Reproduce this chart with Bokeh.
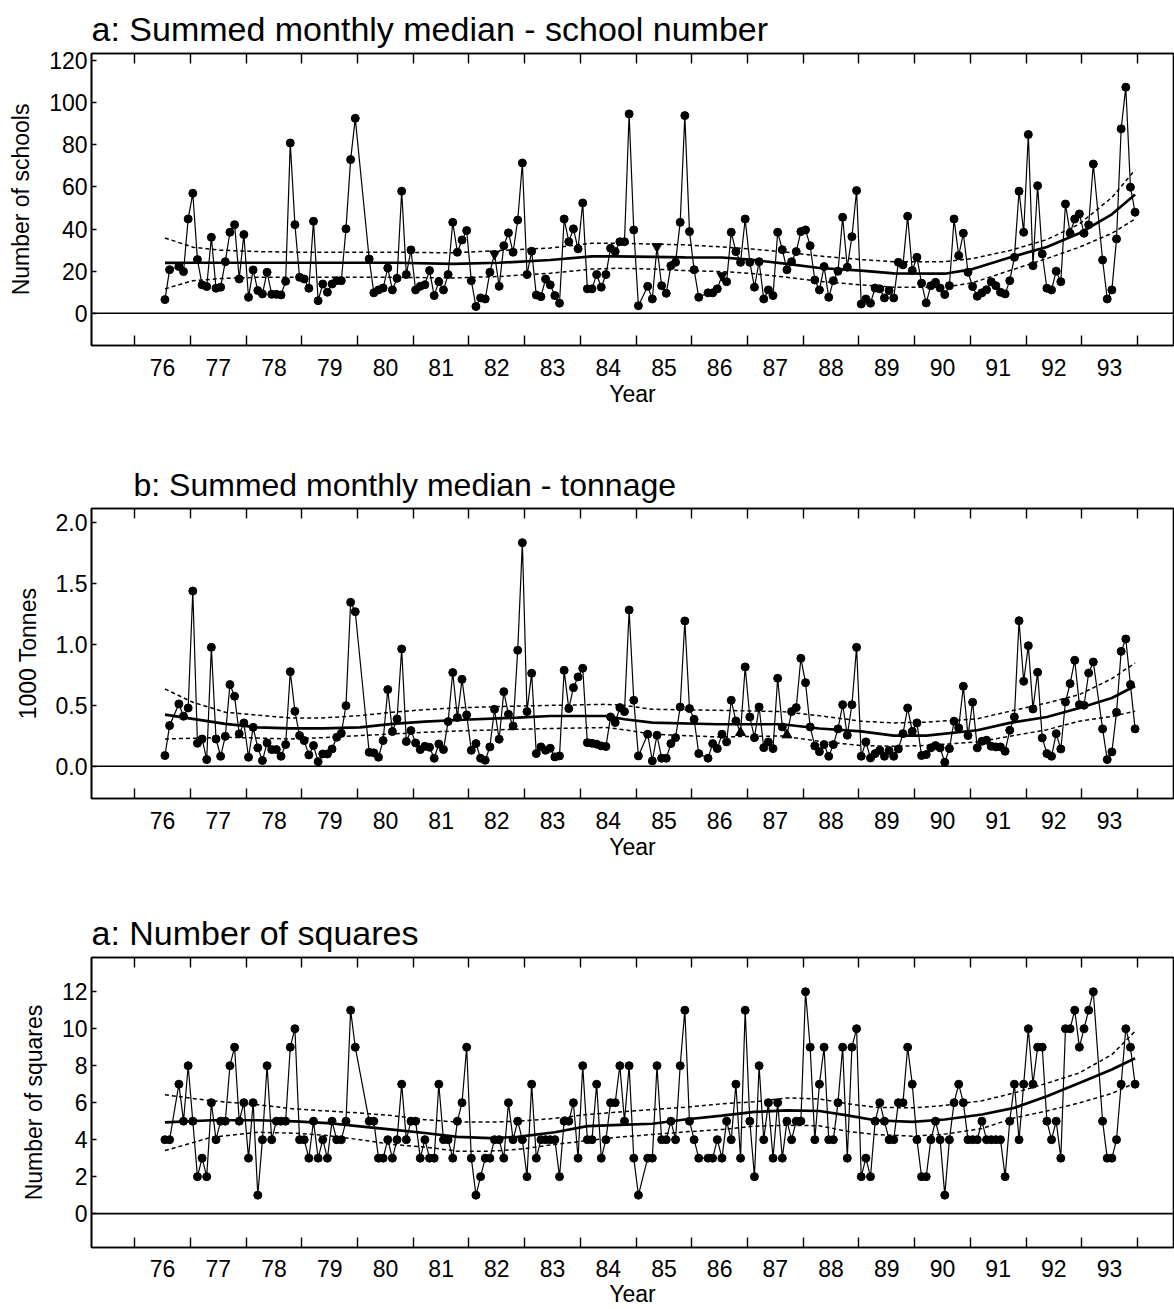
from bokeh.plotting import figure
from bokeh.models import FixedTicker, LinearAxis, Span, Range1d, PrintfTickFormatter
from bokeh.layouts import column
from bokeh.embed import file_html
from bokeh.resources import INLINE

FONT = "Liberation Sans"

# ---------------- data (monthly series, month 0 = first month plotted) -------------
missing_months = [2, 42, 43, 103, 116, 201]
months = [m for m in range(210) if m not in missing_months]

year_labels = list(range(76, 94))  # tick labels 76 .. 93

schools = [6.5, 20.7, 22.2, 19.8, 44.8, 57.0, 25.5, 13.5, 12.7, 36.1, 11.9, 12.4, 24.5, 38.5, 42.1,
           16.3, 37.4, 7.6, 20.6, 10.8, 9.2, 19.5, 9.0, 9.0, 8.7, 15.2, 80.9, 42.1, 17.1, 16.3, 11.9,
           43.7, 6.0, 13.9, 10.0, 13.9, 15.5, 15.5, 40.1, 73.0, 92.6,
           25.8, 9.7, 11.1, 12.0, 21.5, 11.1, 16.6, 58.0, 18.4, 30.1, 11.1, 12.8, 13.6, 20.3, 8.4,
           15.0, 11.1, 18.4, 43.2, 29.0, 34.8, 39.3, 15.5, 3.2, 7.3, 6.8, 19.5, 28.2, 12.8, 32.1,
           38.2, 29.0, 44.3, 71.4, 18.4, 29.5, 8.7, 7.9, 16.3, 13.5, 8.4, 4.8, 44.8, 34.0, 40.1,
           30.6, 52.4, 11.6, 11.6, 18.4, 12.4, 18.4, 30.9, 29.3, 34.0, 34.0, 94.7, 39.6, 3.6,
           12.8, 6.8, 31.7, 13.1, 9.5, 22.6, 24.2, 43.2, 93.9, 38.8, 20.7, 7.6,
           9.7, 9.7, 11.6, 17.9, 15.0, 38.5, 29.3, 24.2, 44.8, 24.2, 12.4, 24.5, 6.8, 11.1, 8.4,
           38.5, 30.2, 20.7, 24.5, 29.3, 38.8, 39.6, 32.1, 15.8, 11.1, 22.2, 7.6, 15.5, 20.0,
           45.6, 21.9, 36.4, 58.3, 4.4, 6.8, 4.8, 12.0, 11.6, 7.3, 10.8, 7.3, 24.2, 23.0, 46.1,
           20.3, 26.6, 14.3, 4.9, 13.1, 14.7, 12.0, 8.9, 13.1, 44.8, 27.4, 38.0, 19.5, 12.7, 8.1,
           9.7, 11.2, 15.0, 13.1, 10.0, 9.2, 15.5, 26.6, 58.0, 38.5, 84.9, 22.6, 60.6, 28.2, 11.9,
           11.1, 20.0, 15.0, 51.9, 38.0, 44.8, 47.2, 38.0, 42.0, 70.9,
           25.3, 6.8, 11.1, 35.3, 87.6, 107.4, 59.9, 48.0]

tonnes = [0.088, 0.334, 0.512, 0.411, 0.479, 1.440, 0.189, 0.224, 0.055, 0.977, 0.224, 0.082,
          0.246, 0.671, 0.575, 0.266, 0.356, 0.074, 0.320, 0.151, 0.047, 0.192, 0.137, 0.137,
          0.082, 0.178, 0.777, 0.452, 0.252, 0.211, 0.093, 0.170, 0.038, 0.101, 0.101, 0.142,
          0.238, 0.271, 0.498, 1.347, 1.270,
          0.115, 0.110, 0.074, 0.211, 0.630, 0.285, 0.389, 0.964, 0.203, 0.293, 0.192, 0.137,
          0.164, 0.156, 0.066, 0.183, 0.137, 0.367, 0.770, 0.400, 0.714, 0.422, 0.131, 0.186,
          0.066, 0.049, 0.159, 0.468, 0.222, 0.613, 0.427, 0.331, 0.953, 1.837, 0.449, 0.764,
          0.104, 0.159, 0.131, 0.148, 0.077, 0.085, 0.788, 0.474, 0.646, 0.734, 0.805, 0.194,
          0.189, 0.181, 0.167, 0.162, 0.405, 0.359, 0.482, 0.449, 1.284, 0.542, 0.085,
          0.263, 0.044, 0.255, 0.066, 0.066, 0.186, 0.235, 0.487, 1.194, 0.474, 0.386, 0.104,
          0.066, 0.186, 0.145, 0.263, 0.200, 0.542, 0.372, 0.276, 0.816, 0.405, 0.235, 0.487,
          0.153, 0.200, 0.145, 0.723, 0.323, 0.257, 0.449, 0.482, 0.887, 0.687, 0.323, 0.167,
          0.120, 0.178, 0.082, 0.178, 0.307, 0.506, 0.255, 0.506, 0.977, 0.082, 0.200, 0.068,
          0.104, 0.131, 0.082, 0.129, 0.082, 0.142, 0.268, 0.479, 0.287, 0.356, 0.088, 0.096,
          0.151, 0.170, 0.151, 0.033, 0.145, 0.370, 0.315, 0.657, 0.252, 0.526, 0.151, 0.205,
          0.214, 0.164, 0.159, 0.159, 0.123, 0.296, 0.405, 1.196, 0.698, 0.991, 0.471, 0.772,
          0.233, 0.104, 0.082, 0.268, 0.142, 0.528, 0.679, 0.871, 0.506, 0.501, 0.766, 0.857,
          0.307, 0.055, 0.118, 0.443, 0.944, 1.046, 0.671, 0.307]

squares = [4, 4, 7, 5, 8, 5, 2, 3, 2, 6, 4, 5, 5, 8, 9, 5, 6, 3, 6, 1, 4, 8, 4, 5, 5, 5, 9, 10,
           4, 4, 3, 5, 3, 4, 3, 5, 4, 4, 5, 11, 9,
           5, 5, 3, 3, 4, 3, 4, 7, 4, 5, 5, 3, 4, 3, 3, 7, 4, 4, 3, 5, 6, 9, 3, 1, 2, 3, 3, 4,
           4, 3, 6, 4, 5, 4, 2, 7, 3, 4, 4, 4, 4, 2, 5, 5, 6, 3, 8, 4, 4, 7, 3, 4, 6, 6, 8, 5,
           8, 3, 1,
           3, 3, 8, 4, 4, 5, 4, 8, 11, 5, 4, 3,
           3, 3, 4, 3, 5, 4, 7, 3, 11, 5, 2, 8, 4, 6, 3, 6, 3, 5, 4, 5, 5, 12, 9, 4, 7, 9, 4, 4,
           6, 9, 3, 9, 10, 2, 3, 2, 5, 6, 5, 4, 4, 6, 6, 9, 7, 4, 2, 2, 4, 5, 4, 1, 4, 6, 7, 6,
           4, 4, 4, 5, 4, 4, 4, 4, 2, 5, 7, 4, 7, 10, 7, 9, 9, 5, 4, 5, 3, 10, 10, 11, 9, 10, 11,
           12,
           5, 3, 3, 4, 7, 10, 9, 7]

schools_flagged = [71, 106, 120]   # months drawn with triangle symbols
tonnes_flagged = [124, 134]

# smoothed trend and confidence band read at knot months
knots_a = [0, 6, 12, 20, 30, 40, 50, 62, 72, 83, 92, 97, 105, 112, 120, 126, 134, 141, 150, 157,
           168, 174, 182, 190, 197, 204, 209]
trend_a = [23.9, 24.0, 24.0, 24.0, 24.0, 24.0, 24.0, 23.5, 24.0, 25.3, 27.0, 27.0, 26.8, 26.6,
           26.5, 25.5, 23.5, 21.5, 20.3, 19.0, 18.8, 21.0, 26.5, 31.5, 38.0, 47.0, 56.4]
upper_a = [35.8, 31.4, 30.0, 29.3, 29.0, 29.0, 29.0, 28.7, 29.8, 31.0, 33.3, 33.3, 32.9, 32.5,
           31.5, 30.6, 29.0, 27.2, 25.5, 24.5, 24.5, 26.0, 29.8, 35.0, 42.4, 55.0, 68.1]
lower_a = [11.6, 15.5, 16.5, 17.1, 17.1, 17.1, 17.1, 16.8, 17.5, 19.0, 21.0, 21.4, 21.0, 20.3,
           19.8, 19.0, 17.1, 15.2, 13.5, 12.4, 12.4, 14.5, 20.3, 26.0, 31.4, 38.0, 44.8]

knots_b = [0, 6, 13, 20, 27, 34, 42, 49, 56, 63, 76, 83, 95, 99, 105, 119, 133, 141, 150, 157,
           164, 175, 182, 190, 197, 204, 209]
trend_b = [0.424, 0.389, 0.348, 0.320, 0.312, 0.312, 0.320, 0.348, 0.367, 0.380, 0.400, 0.413,
           0.413, 0.386, 0.359, 0.345, 0.345, 0.310, 0.287, 0.252, 0.252, 0.296, 0.356, 0.405,
           0.479, 0.561, 0.660]
upper_b = [0.635, 0.526, 0.444, 0.420, 0.397, 0.397, 0.416, 0.444, 0.465, 0.480, 0.495, 0.500,
           0.509, 0.500, 0.468, 0.460, 0.449, 0.415, 0.370, 0.356, 0.362, 0.390, 0.452, 0.520,
           0.589, 0.720, 0.849]
lower_b = [0.224, 0.230, 0.238, 0.232, 0.224, 0.235, 0.252, 0.265, 0.279, 0.290, 0.304, 0.310,
           0.318, 0.300, 0.263, 0.241, 0.249, 0.205, 0.170, 0.164, 0.170, 0.200, 0.246, 0.300,
           0.370, 0.410, 0.452]

knots_c = [0, 10, 20, 28, 35, 42, 49, 56, 63, 70, 76, 84, 91, 98, 105, 112, 120, 127, 134, 141,
           147, 153, 161, 168, 176, 183, 190, 197, 204, 209]
trend_c = [4.94, 5.05, 5.05, 4.99, 4.90, 4.72, 4.54, 4.36, 4.15, 4.08, 4.15, 4.40, 4.73, 4.80,
           4.86, 5.09, 5.30, 5.50, 5.58, 5.55, 5.31, 5.05, 4.96, 5.09, 5.36, 5.72, 6.35, 7.07,
           7.79, 8.40]
upper_c = [6.43, 6.10, 5.89, 5.66, 5.55, 5.44, 5.30, 5.08, 4.95, 4.95, 5.00, 5.15, 5.36, 5.50,
           5.63, 5.75, 5.94, 6.05, 6.26, 6.20, 5.95, 5.75, 5.72, 5.85, 6.10, 6.53, 7.05, 7.61,
           8.60, 9.86]
lower_c = [3.41, 4.13, 4.40, 4.35, 4.22, 4.00, 3.74, 3.60, 3.38, 3.38, 3.47, 3.74, 3.95, 4.14,
           4.28, 4.42, 4.55, 4.73, 4.78, 4.75, 4.45, 4.28, 4.19, 4.30, 4.60, 5.18, 5.55, 5.99,
           6.50, 7.07]

assert len(schools) == len(months), len(schools)
assert len(tonnes) == len(months), len(tonnes)
assert len(squares) == len(months), len(squares)


def xpos(m):
    # axis unit: label "76" sits at the middle of year 1976; monthly points at month centres
    return 76 + (m + 0.5) / 12.0


def make_panel(title, ylabel, values, flagged, flag_marker, knots, trend, upper, lower,
               yr, yticks, yfmt, height, top, bottom, title_offset, title_size,
               xlabel_standoff, year_standoff):
    p = figure(width=1174, height=height, output_backend="svg", toolbar_location=None,
               x_range=Range1d(74.723, 94.148), y_range=Range1d(*yr),
               min_border_left=91, min_border_right=1, min_border_top=top,
               min_border_bottom=bottom)
    p.background_fill_color = "white"
    p.border_fill_color = "white"
    p.outline_line_color = "black"
    p.outline_line_width = 1.6
    p.xgrid.grid_line_color = None
    p.ygrid.grid_line_color = None

    p.title.text = title
    p.title.text_font = FONT
    p.title.text_font_size = title_size
    p.title.text_font_style = "normal"
    p.title.text_color = "black"
    p.title.offset = title_offset
    p.title.standoff = 11

    minor = [y + 0.5 for y in range(75, 94)]
    xt = FixedTicker(ticks=year_labels, minor_ticks=minor)
    xa = p.xaxis[0]
    xa.ticker = xt
    xa.major_tick_in = 0
    xa.major_tick_out = 0
    xa.minor_tick_in = 10
    xa.minor_tick_out = 0
    xa.minor_tick_line_width = 1.4
    xa.axis_line_width = 1.6
    xa.major_label_standoff = xlabel_standoff
    xa.major_label_text_font = FONT
    xa.major_label_text_font_size = "23px"
    xa.major_label_text_color = "black"
    xa.axis_label = "Year"
    xa.axis_label_text_font = FONT
    xa.axis_label_text_font_size = "23px"
    xa.axis_label_text_font_style = "normal"
    xa.axis_label_text_color = "black"
    xa.axis_label_standoff = year_standoff

    ta = LinearAxis(ticker=FixedTicker(ticks=[], minor_ticks=minor), major_tick_in=0,
                    major_tick_out=0, minor_tick_in=10, minor_tick_out=0,
                    minor_tick_line_width=1.4, axis_line_width=1.6, major_label_standoff=0)
    p.add_layout(ta, "above")

    ya = p.yaxis[0]
    ya.ticker = FixedTicker(ticks=yticks)
    if yfmt:
        ya.formatter = PrintfTickFormatter(format=yfmt)
    ya.major_tick_in = 5
    ya.major_tick_out = 0
    ya.major_tick_line_width = 1.4
    ya.minor_tick_line_color = None
    ya.axis_line_width = 1.6
    ya.major_label_standoff = 4
    ya.major_label_text_font = FONT
    ya.major_label_text_font_size = "23px"
    ya.major_label_text_color = "black"
    ya.axis_label = ylabel
    ya.axis_label_text_font = FONT
    ya.axis_label_text_font_size = "23px"
    ya.axis_label_text_font_style = "normal"
    ya.axis_label_text_color = "black"
    ya.axis_label_standoff = 12

    p.add_layout(Span(location=0, dimension="width", line_color="black", line_width=1.6))

    xs = [xpos(m) for m in months]
    p.line(xs, values, line_color="black", line_width=1.2)
    cx = [xpos(m) for m, v in zip(months, values) if m not in flagged]
    cy = [v for m, v in zip(months, values) if m not in flagged]
    p.scatter(cx, cy, marker="circle", size=8, color="black")
    if flagged:
        tx = [xpos(m) for m, v in zip(months, values) if m in flagged]
        ty = [v for m, v in zip(months, values) if m in flagged]
        p.scatter(tx, ty, marker=flag_marker, size=10, color="black")

    kx = [xpos(m) for m in knots]
    p.line(kx, upper, line_color="black", line_width=1.5, line_dash="4 3")
    p.line(kx, lower, line_color="black", line_width=1.5, line_dash="4 3")
    p.line(kx, trend, line_color="black", line_width=2.7)
    return p


pa = make_panel("a: Summed monthly median - school number", "Number of schools", schools,
                schools_flagged, "inverted_triangle", knots_a, trend_a, upper_a, lower_a,
                (-15.3, 123.4), [0, 20, 40, 60, 80, 100, 120], None, 455, 53, 110, 0, "34px",
                13, 2)
pb = make_panel("b: Summed monthly median - tonnage", "1000 Tonnes", tonnes,
                tonnes_flagged, "triangle", knots_b, trend_b, upper_b, lower_b,
                (-0.265, 2.118), [0.0, 0.5, 1.0, 1.5, 2.0], "%.1f", 449, 53, 106, 42, "32px",
                13, 2)
pc = make_panel("a: Number of squares", "Number of squares", squares,
                [], "circle", knots_c, trend_c, upper_c, lower_c,
                (-1.83, 13.85), [0, 2, 4, 6, 8, 10, 12], None, 405, 53, 61, 0, "34px",
                12, 1)

layout = column(pa, pb, pc, spacing=0)
open("out.html", "w").write(file_html(layout, INLINE))
